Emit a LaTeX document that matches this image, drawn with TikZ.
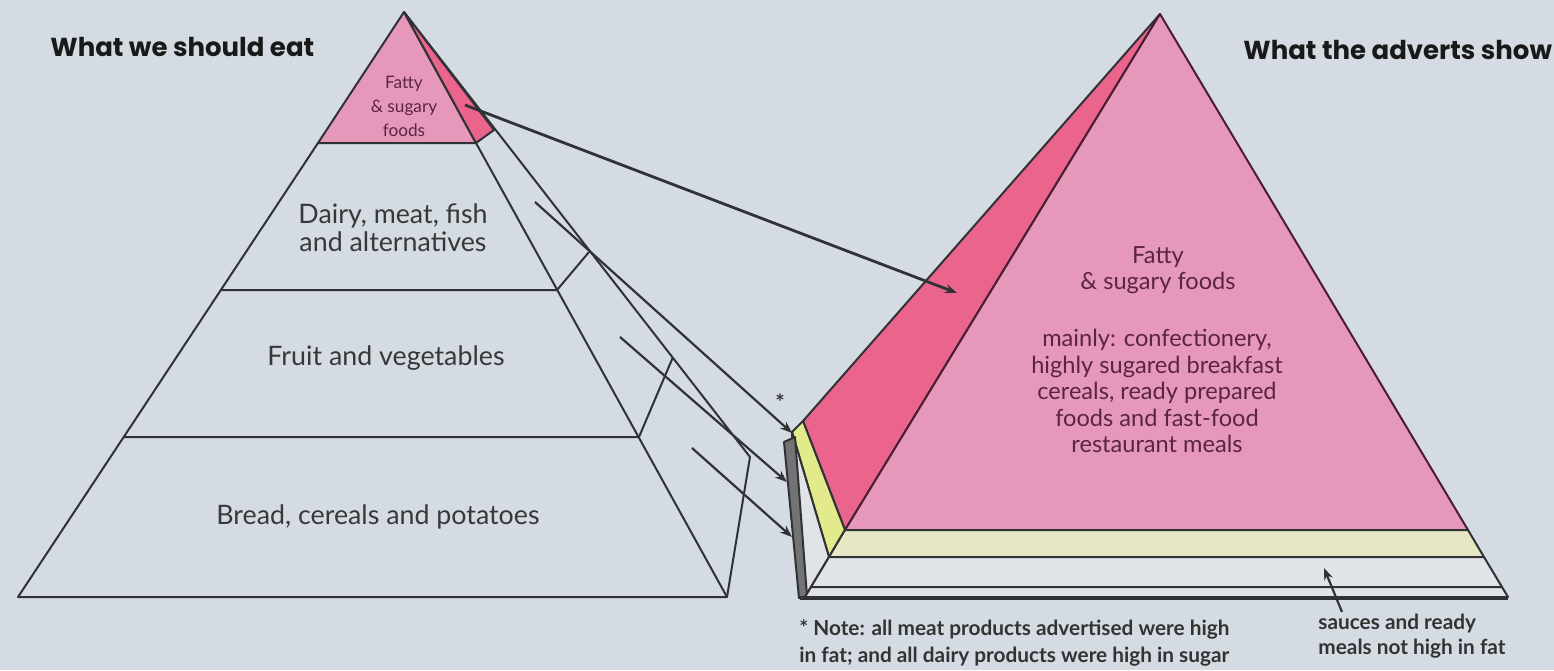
\documentclass[tikz,border=0pt]{standalone}
\usepackage{fontspec}
\setmainfont{Lato}
\newfontfamily\headfont{Poppins}
\usetikzlibrary{arrows.meta,positioning}
\definecolor{bgc}{RGB}{212,219,226}
\definecolor{lightband}{RGB}{224,228,232}
\definecolor{pinkf}{RGB}{230,152,187}
\definecolor{redf}{RGB}{234,100,140}
\definecolor{yelf}{RGB}{226,234,140}
\definecolor{creamf}{RGB}{230,231,196}
\definecolor{edge}{RGB}{48,50,54}
\definecolor{plum}{RGB}{92,36,66}

\begin{document}
\begin{tikzpicture}[
    x=0.5pt, y=-0.5pt,
    >={Stealth[length=6pt,width=4.5pt]},
    face/.style={draw=edge, line width=1pt, line join=round},
    arr/.style={->, draw=edge, line width=1.1pt},
    head/.style={anchor=west, inner sep=0pt, text=black!90,
        font=\headfont\bfseries\fontsize{13}{15}\selectfont},
    lbl/.style={align=center, inner sep=0pt, text=black!78,
        font=\fontsize{13.4}{14}\selectfont},
    adv/.style={align=center, inner sep=0pt, text=plum,
        font=\fontsize{11.8}{13.3}\selectfont},
    note/.style={anchor=north west, align=left, inner sep=0pt, text=black!80,
        font=\bfseries\fontsize{10.4}{13.5}\selectfont}
]

\fill[bgc] (0,0) rectangle (1554,670);

% left pyramid
\draw[face] (404,12) -- (750,457) -- (727,597);
\draw[face, fill=pinkf] (404,12) -- (318,143) -- (476,143) -- cycle;
\draw[face, fill=redf] (404,12) -- (476,143) -- (494,130) -- cycle;
\draw[face] (318,143) -- (18,597) -- (727,597) -- (476,143);
\draw[face, line width=1.4pt] (18,597) -- (727,597);
\draw[face] (221,290) -- (557,290) -- (589,252);
\draw[face] (124,437) -- (639,437) -- (673,357);

% right pyramid
\draw[face, fill=redf] (1160,14) -- (803,421) -- (845,530) -- cycle;
\draw[face, fill=yelf] (803,421) -- (845,530) -- (829,557) -- (792,432) -- cycle;
\draw[face, fill=lightband] (792,432) -- (829,557) -- (805,597) -- (800,598) -- cycle;
\draw[face, fill=black!55] (784,442) -- (795,437) -- (807,596) -- (799,598) -- cycle;
\draw[face, draw=plum!80!black, fill=pinkf] (1160,14) -- (845,530) -- (1468,530) -- cycle;
\draw[face, fill=creamf] (845,530) -- (1468,530) -- (1484,557) -- (829,557) -- cycle;
\draw[face, fill=lightband] (829,557) -- (1484,557) -- (1502,587) -- (811,587) -- cycle;
\draw[face, fill=lightband] (811,587) -- (1502,587) -- (1508,597) -- (805,597) -- cycle;
\draw[face, line width=1.6pt] (800,598) -- (1508,598);

% labels
\node[head] (eat) at (50,47) {What we should eat};
\node[head] (show) at (1243,50) {What the adverts show};

\node[lbl, text=plum, font=\fontsize{8.6}{12}\selectfont] (topfat) at (404,106) {Fatty\\\& sugary\\foods};
\node[lbl] (dairy) at (393,228) {Dairy, meat, fish\\and alternatives};
\node[lbl] (fruit) at (386,358) {Fruit and vegetables};
\node[lbl] (bread) at (378,517) {Bread, cereals and potatoes};

\node[adv] (advfat) at (1158,270) {Fatty\\\& sugary foods};
\node[adv] (advlist) at (1157,391) {mainly: confectionery,\\highly sugared breakfast\\cereals, ready prepared\\foods and fast-food\\restaurant meals};

\node[note, font=\bfseries\fontsize{11}{12}\selectfont, anchor=center] (star) at (780,402) {*};
\node[note] (meatnote) at (799,619) {* Note: all meat products advertised were high\\in fat; and all dairy products were high in sugar};
\node[note, font=\bfseries\fontsize{10.4}{12.5}\selectfont] (sauce) at (1318,614) {sauces and ready\\meals not high in fat};

% arrows
\coordinate (fatS) at (465,105);
\coordinate (fatE) at (957,293);
\coordinate (dairyS) at (535,202);
\coordinate (dairyE) at (792,433);
\coordinate (fruitS) at (620,337);
\coordinate (fruitE) at (787,482);
\coordinate (breadS) at (692,448);
\coordinate (breadE) at (792,537);
\coordinate (sauceS) at (1342,612);
\coordinate (sauceE) at (1324,568);

\draw[arr, line width=1.4pt] (fatS) -- (fatE);
\draw[arr] (dairyS) -- (dairyE);
\draw[arr] (fruitS) -- (fruitE);
\draw[arr] (breadS) -- (breadE);
\draw[arr] (sauceS) -- (sauceE);

\end{tikzpicture}
\end{document}
